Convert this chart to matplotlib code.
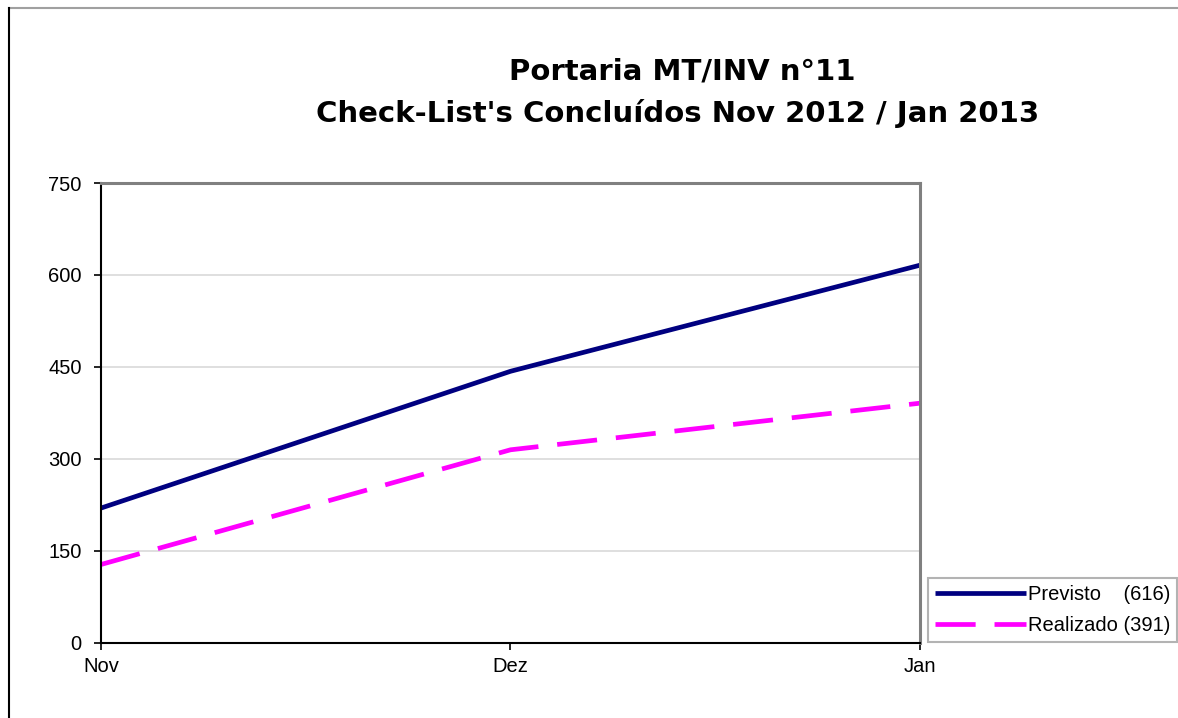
import matplotlib
matplotlib.use('Agg')
import matplotlib.pyplot as plt
from matplotlib.lines import Line2D

months = ['Nov', 'Dez', 'Jan']
previsto = [220, 443, 616]
realizado = [128, 315, 391]
labels = ['Previsto    (616)', 'Realizado (391)']
title_lines = ['Portaria MT/INV n°11', "Check-List's Concluídos Nov 2012 / Jan 2013"]

plt.rcParams['font.family'] = ['Liberation Sans', 'DejaVu Sans']

W, H = 1178, 718
fig = plt.figure(figsize=(W / 100, H / 100), dpi=100)
ax = fig.add_axes([101 / W, 1 - 643 / H, (920 - 101) / W, (643 - 183) / H])

x = range(len(months))
ax.plot(x, previsto, color='#000080', lw=3.4, solid_capstyle='butt', label=labels[0], clip_on=False)
ax.plot(x, realizado, color='#FF00FF', lw=3.4, dashes=(8.5, 4), label=labels[1], clip_on=False)

ax.set_xlim(0, 2)
ax.set_ylim(0, 750)
ax.set_xticks(list(x))
ax.set_xticklabels(months)
ax.set_yticks([0, 150, 300, 450, 600, 750])
ax.yaxis.grid(True, color='#D9D9D9', lw=1.2)
ax.set_axisbelow(True)
ax.tick_params(axis='both', labelsize=14.5, direction='out', length=5, width=1.2, color='black')
ax.tick_params(axis='y', pad=9)
ax.tick_params(axis='x', pad=5)

for s in ['top', 'right']:
    ax.spines[s].set_color('#808080')
    ax.spines[s].set_linewidth(2.2)
for s in ['left', 'bottom']:
    ax.spines[s].set_color('black')
    ax.spines[s].set_linewidth(1.5)

leg = fig.legend(loc='upper left', bbox_to_anchor=(928 / W, 1 - 578 / H), fontsize=14.5,
                 frameon=True, fancybox=False, edgecolor='#A0A0A0', handlelength=4.5,
                 handletextpad=0.1, borderpad=0.35, labelspacing=0.6, borderaxespad=0)
leg.get_frame().set_linewidth(1.5)

fig.text(682 / W, 1 - 72 / H, title_lines[0], ha='center', va='center', fontsize=21,
         fontweight='bold', family=['DejaVu Sans'])
fig.text(678 / W, 1 - 113 / H, title_lines[1], ha='center', va='center', fontsize=21,
         fontweight='bold', family=['DejaVu Sans'])

# outer frame fragments
fig.add_artist(Line2D([9 / W, 1], [1 - 8 / H, 1 - 8 / H], transform=fig.transFigure, color='#A0A0A0', lw=1.5))
fig.add_artist(Line2D([9 / W, 9 / W], [0, 1 - 8 / H], transform=fig.transFigure, color='black', lw=1.5))

fig.savefig('out.png', dpi=100)
